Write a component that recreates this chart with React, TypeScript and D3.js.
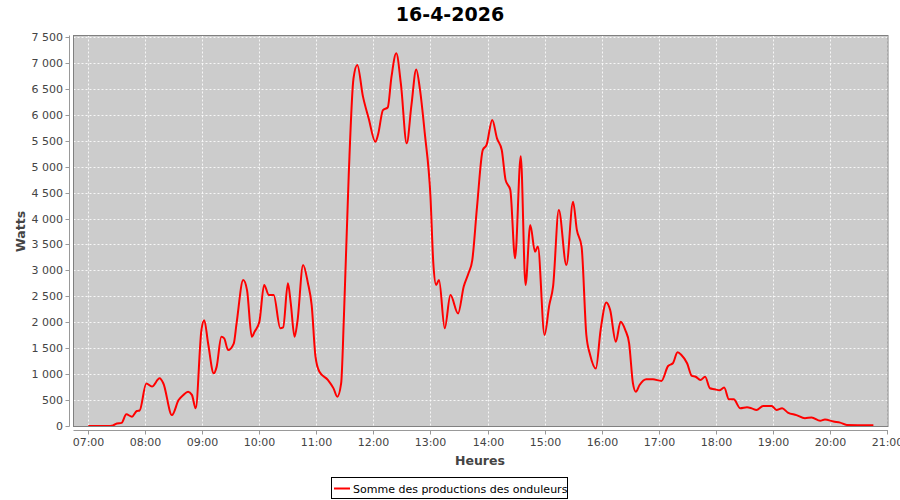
import React from "react";
import * as d3 from "d3";

const TITLE = "16-4-2026";
const X_LABEL = "Heures";
const Y_LABEL = "Watts";
const SERIES_NAME = "Somme des productions des onduleurs";

const X_TICKS = ["07:00", "08:00", "09:00", "10:00", "11:00", "12:00", "13:00", "14:00", "15:00", "16:00", "17:00", "18:00", "19:00", "20:00", "21:00"];
const Y_TICKS = [0, 500, 1000, 1500, 2000, 2500, 3000, 3500, 4000, 4500, 5000, 5500, 6000, 6500, 7000, 7500];

const TIMES = [
  "07:00", "07:05", "07:10", "07:15", "07:20", "07:26", "07:30", "07:35", "07:40", "07:46", "07:51", "07:54",
  "08:01", "08:07", "08:15", "08:19", "08:28", "08:35", "08:40", "08:45", "08:49", "08:53", "08:59",
  "09:02", "09:06", "09:12", "09:15", "09:20", "09:23", "09:27", "09:33", "09:36", "09:43", "09:47", "09:52", "09:55",
  "10:00", "10:05", "10:10", "10:15", "10:22", "10:25", "10:30", "10:33", "10:37", "10:40", "10:46", "10:51", "10:55", "10:59",
  "11:03", "11:12", "11:18", "11:22", "11:26", "11:29", "11:34", "11:39", "11:43", "11:49", "11:55",
  "12:02", "12:05", "12:10", "12:15", "12:19", "12:24", "12:29", "12:35", "12:40", "12:45", "12:49", "12:54",
  "13:00", "13:03", "13:06", "13:09", "13:15", "13:21", "13:29", "13:35", "13:40", "13:44", "13:49", "13:55", "13:59",
  "14:05", "14:10", "14:15", "14:19", "14:24", "14:29", "14:35", "14:40", "14:45", "14:50", "14:53",
  "15:00", "15:05", "15:09", "15:15", "15:23", "15:30", "15:34", "15:39", "15:44", "15:48", "15:54", "15:59",
  "16:05", "16:09", "16:15", "16:20", "16:25", "16:29", "16:33", "16:36", "16:40", "16:47", "16:54",
  "17:03", "17:10", "17:15", "17:20", "17:24", "17:30", "17:35", "17:39", "17:44", "17:49", "17:54", "17:59",
  "18:04", "18:09", "18:14", "18:19", "18:26", "18:33", "18:38", "18:43", "18:50", "18:59",
  "19:04", "19:10", "19:16", "19:25", "19:34", "19:41", "19:50", "19:55",
  "20:04", "20:11", "20:18", "20:46",
];

const WATTS = [
  0, 0, 0, 0, 0, 10, 50, 60, 225, 180, 290, 300,
  820, 760, 920, 820, 210, 500, 600, 660, 600, 340, 1850,
  2040, 1600, 1015, 1140, 1720, 1690, 1465, 1590, 1980, 2815, 2620, 1720, 1820,
  2010, 2720, 2525, 2525, 1885, 1900, 2750, 2370, 1720, 2010, 3105, 2760, 2330, 1340,
  1050, 890, 725, 565, 820, 2140, 4840, 6700, 6960, 6350, 5930,
  5480, 5630, 6090, 6140, 6735, 7185, 6575, 5450, 6190, 6875, 6480, 5645,
  4420, 3135, 2720, 2815, 1885, 2525, 2170, 2690, 2945, 3200, 4230, 5320, 5420,
  5900, 5545, 5320, 4745, 4550, 3235, 5200, 2720, 3875, 3360, 3460,
  1755, 2330, 2690, 4165, 3105, 4325, 3780, 3455, 1755, 1370, 1110, 1850,
  2380, 2240, 1625, 2010, 1850, 1595, 825, 660, 790, 900, 900,
  870, 1157, 1210, 1420, 1370, 1210, 965, 950, 887, 950, 727, 710,
  690, 740, 515, 515, 340, 360, 340, 310, 385, 385,
  310, 340, 260, 210, 150, 165, 100, 125,
  85, 65, 20, 15,
];

const parseTime = d3.timeParse("%H:%M");
const fmtThousands = (v: number) => {
  const s = String(v);
  return s.length > 3 ? s.slice(0, s.length - 3) + "\u00A0" + s.slice(s.length - 3) : s;
};

export default function App() {
  const W = 900, H = 500;
  const plot = { left: 73.5, right: 888, top: 35.5, bottom: 426.5 };

  const x = d3.scaleTime()
    .domain([parseTime("07:00") as Date, parseTime("21:00") as Date])
    .range([88.3, 886.7]);
  const y = d3.scaleLinear().domain([0, 7500]).range([426, 37]);

  const data = TIMES.map((t, i) => ({ t: parseTime(t) as Date, v: WATTS[i] }));
  const line = d3.line<{ t: Date; v: number }>()
    .x(d => x(d.t))
    .y(d => y(d.v))
    .curve(d3.curveMonotoneX);

  const font = "'DejaVu Sans', sans-serif";
  const axisColor = "#999";
  const labelColor = "#444";

  return (
    <svg width={W} height={H} style={{ display: "block", position: "absolute", left: 0, top: 0 }} fontFamily={font}>
      <rect x={0} y={0} width={W} height={H} fill="#fff" />
      <text x={450} y={21} textAnchor="middle" fontSize={19} fontWeight="bold" fill="#000">{TITLE}</text>

      <rect x={plot.left} y={plot.top} width={plot.right - plot.left} height={plot.bottom - plot.top} fill="#cccccc" />

      {Y_TICKS.map(v => (
        <line key={"gy" + v} x1={plot.left} x2={plot.right} y1={Math.round(y(v)) + 0.5} y2={Math.round(y(v)) + 0.5}
          stroke="#fff" strokeWidth={1} strokeDasharray="2,2" opacity={0.85} />
      ))}
      {X_TICKS.map(t => {
        const px = Math.round(x(parseTime(t) as Date)) + 0.5;
        return <line key={"gx" + t} x1={px} x2={px} y1={plot.top} y2={plot.bottom}
          stroke="#fff" strokeWidth={1} strokeDasharray="2,2" opacity={0.85} />;
      })}

      <path d={line(data) || ""} fill="none" stroke="#ff0000" strokeWidth={2} strokeLinejoin="round" />

      <rect x={plot.left} y={plot.top} width={plot.right - plot.left} height={plot.bottom - plot.top} fill="none" stroke="#808080" strokeWidth={1} />

      {/* Y axis */}
      <line x1={69.5} x2={69.5} y1={plot.top} y2={plot.bottom} stroke={axisColor} />
      {Y_TICKS.map(v => {
        const py = Math.round(y(v)) + 0.5;
        return (
          <g key={"ty" + v}>
            <line x1={65.5} x2={69.5} y1={py} y2={py} stroke={axisColor} />
            <text x={63} y={py} dy="0.36em" textAnchor="end" fontSize={11} fill={labelColor}>{fmtThousands(v)}</text>
          </g>
        );
      })}
      <text transform="translate(25,231.5) rotate(-90)" textAnchor="middle" fontSize={12.5} fontWeight="bold" fill={labelColor}>{Y_LABEL}</text>

      {/* X axis */}
      <line x1={plot.left} x2={plot.right} y1={430.5} y2={430.5} stroke={axisColor} />
      {X_TICKS.map(t => {
        const px = Math.round(x(parseTime(t) as Date)) + 0.5;
        return (
          <g key={"tx" + t}>
            <line x1={px} x2={px} y1={430.5} y2={434.5} stroke={axisColor} />
            <text x={px} y={446} textAnchor="middle" fontSize={11} fill={labelColor}>{t}</text>
          </g>
        );
      })}
      <text x={480} y={465} textAnchor="middle" fontSize={12.5} fontWeight="bold" fill={labelColor}>{X_LABEL}</text>

      {/* Legend */}
      <rect x={331.5} y={477.5} width={236} height={21} fill="#fff" stroke="#000" strokeWidth={1} />
      <line x1={334} x2={350} y1={488.5} y2={488.5} stroke="#ff0000" strokeWidth={2} />
      <text x={353} y={492.5} fontSize={11} fill="#000">{SERIES_NAME}</text>
    </svg>
  );
}
